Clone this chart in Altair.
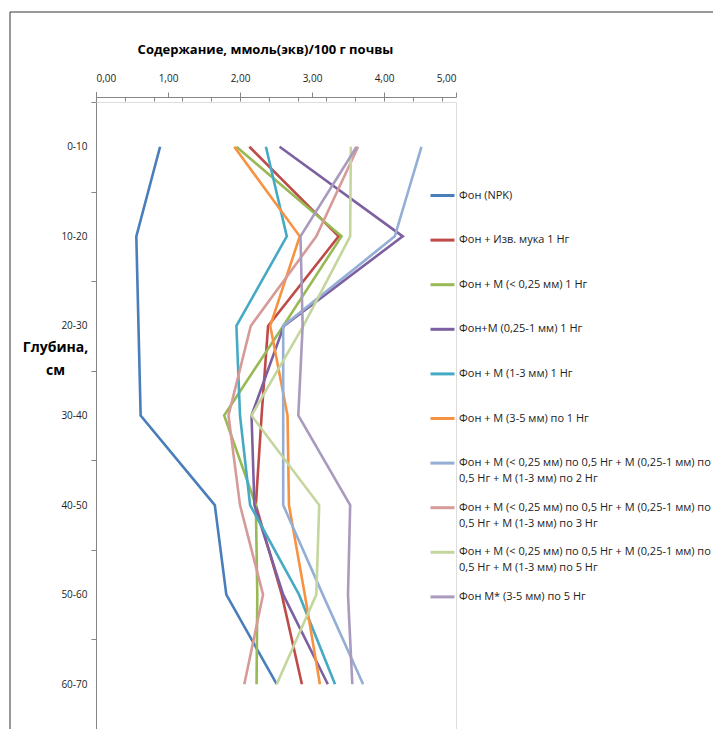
import altair as alt
import pandas as pd

depths = ["0-10", "10-20", "20-30", "30-40", "40-50", "50-60", "60-70"]

series = [
    "Фон (NPK)",
    "Фон + Изв. мука  1 Нг",
    "Фон + М (< 0,25 мм)  1 Нг",
    "Фон+М  (0,25-1 мм) 1 Нг",
    "Фон + М (1-3 мм) 1 Нг",
    "Фон + М (3-5 мм) по 1 Нг",
    "Фон + М (< 0,25 мм) по 0,5 Нг + М (0,25-1 мм) по|0,5 Нг + М (1-3 мм) по 2 Нг",
    "Фон + М (< 0,25 мм) по 0,5 Нг + М (0,25-1 мм) по|0,5 Нг + М (1-3 мм) по 3 Нг",
    "Фон + М (< 0,25 мм) по 0,5 Нг + М (0,25-1 мм) по|0,5 Нг + М (1-3 мм) по 5 Нг",
    "Фон М*  (3-5 мм) по 5 Нг",
]

colors = ["#4A7EBB", "#BE4B48", "#98B954", "#7D60A0", "#46AAC5",
          "#F69240", "#95AED6", "#D69A98", "#C4D69E", "#A99BBD"]

v_npk = [0.89, 0.56, 0.59, 0.62, 1.65, 1.81, 2.51]
v_izv = [2.13, 3.37, 2.39, 2.30, 2.22, 2.58, 2.86]
v_m025 = [1.95, 3.41, 2.60, 1.78, 2.22, 2.24, 2.23]
v_m0251 = [2.55, 4.26, 2.61, 2.16, 2.20, 2.60, 3.22]
v_m13 = [2.36, 2.65, 1.95, 2.00, 2.14, 2.82, 3.32]
v_m35 = [1.92, 2.83, 2.42, 2.66, 2.68, 2.90, 3.11]
v_mix2 = [4.52, 4.15, 2.60, 2.60, 2.60, 3.15, 3.71]
v_mix3 = [3.64, 3.06, 2.15, 1.84, 2.00, 2.32, 2.06]
v_mix5 = [3.54, 3.53, 2.88, 2.16, 3.10, 3.06, 2.51]
v_m35x5 = [3.62, 2.84, 2.87, 2.81, 3.53, 3.50, 3.56]

values = [v_npk, v_izv, v_m025, v_m0251, v_m13, v_m35, v_mix2, v_mix3, v_mix5, v_m35x5]

x_major = [0, 1, 2, 3, 4, 5]
x_minor = [0.4, 0.8, 1.2, 1.6, 2.0, 2.4, 2.8, 3.2, 3.6, 4.0, 4.4, 4.8]

rows = []
for name, vals in zip(series, values):
    for i, (d, v) in enumerate(zip(depths, vals)):
        rows.append({"series": name, "depth": d, "idx": i, "value": v})
df = pd.DataFrame(rows)

FONT = "Open Sans"
GRAY = "#868686"

x_scale = alt.Scale(domain=[0, 5], nice=False, zero=True)
y_scale = alt.Scale(domain=depths, paddingInner=0, paddingOuter=0)

lines = alt.Chart(df).mark_line(strokeWidth=2.6).encode(
    x=alt.X("value:Q", scale=x_scale,
            axis=alt.Axis(orient="top", values=x_major, offset=5, grid=False,
                          labelExpr="replace(format(datum.value, '.2f'), '.', ',')",
                          tickSize=5, tickColor=GRAY, domainColor=GRAY,
                          labelFont=FONT, labelFontSize=10, labelColor="#222222",
                          labelPadding=9,
                          title="Содержание, ммоль(экв)/100 г почвы",
                          titleFont=FONT, titleFontSize=13, titleFontWeight="bold",
                          titleColor="#000000", titleX=169, titleY=-48,
                          titleBaseline="middle", titleAlign="center")),
    y=alt.Y("depth:N", scale=y_scale, sort=depths,
            axis=alt.Axis(orient="left", tickBand="extent", grid=False,
                          tickSize=5, tickColor=GRAY, domainColor=GRAY,
                          labelFont=FONT, labelFontSize=10, labelColor="#222222",
                          labelPadding=4,
                          title=["Глубина,", "см"], titleAngle=0,
                          titleFont=FONT, titleFontSize=14, titleFontWeight="bold",
                          titleColor="#000000", titleAlign="center",
                          titleBaseline="top", titleLineHeight=23,
                          titleX=-41, titleY=238)),
    color=alt.Color("series:N", scale=alt.Scale(domain=series, range=colors),
                    legend=alt.Legend(orient="none", legendX=333, legendY=80,
                                      title=None, symbolType="stroke",
                                      symbolSize=576, symbolStrokeWidth=3,
                                      labelFont=FONT, labelFontSize=11,
                                      labelColor="#222222", labelLimit=800,
                                      labelOffset=3, rowPadding=9.6, padding=0,
                                      labelExpr="indexof(datum.label, '|') >= 0 ? split(datum.label, '|') : [datum.label, '']")),
    order=alt.Order("idx:Q"),
)

minor = alt.Chart(pd.DataFrame({"t": x_minor})).mark_tick(opacity=0).encode(
    x=alt.X("t:Q", scale=x_scale,
            axis=alt.Axis(orient="top", values=x_minor, offset=1, labels=False,
                          domain=False, grid=False, tickSize=4, tickColor=GRAY,
                          title=None)),
)

frame_top = alt.Chart(pd.DataFrame({"k": [0]})).mark_rule(color="#333333", strokeWidth=1).encode(
    x=alt.value(-86), x2=alt.value(640), y=alt.value(-90)
)
frame_left = alt.Chart(pd.DataFrame({"k": [0]})).mark_rule(color="#333333", strokeWidth=1).encode(
    x=alt.value(-86), y=alt.value(-90), y2=alt.value(660)
)
axis_join = alt.Chart(pd.DataFrame({"k": [0]})).mark_rule(color=GRAY, strokeWidth=1).encode(
    x=alt.value(0.5), y=alt.value(-10), y2=alt.value(0)
)

chart = alt.layer(lines, minor, frame_top, frame_left, axis_join).resolve_axis(
    x="independent").properties(
    width=360, height=627,
    autosize=alt.AutoSizeParams(type="none"),
    padding={"left": 88, "top": 94, "right": 257, "bottom": 0},
).configure_view(stroke=None).configure(
    style={"guide-label": {"lineHeight": 16}}
)

chart.save("out.html", embed_options={"renderer": "svg", "actions": False})
